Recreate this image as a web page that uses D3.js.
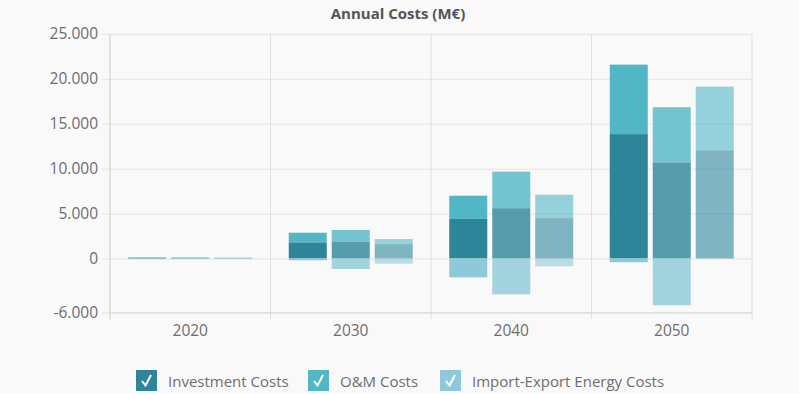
<!DOCTYPE html>
<html><head><meta charset="utf-8">
<script src="https://cdn.jsdelivr.net/npm/d3@7/dist/d3.min.js"></script>
<style>
html,body{margin:0;padding:0;background:#f9f9f9;}
svg{display:block;font-family:"Open Sans",sans-serif;}
</style></head>
<body><svg id="c" width="799" height="394"></svg>
<script>
const years = ["2020","2030","2040","2050"];
const scenarios = [0,1,2];
const seriesNames = ["Investment Costs","O&M Costs","Import-Export Energy Costs"];
const seriesColors = ["#2e8599","#52b6c5","#8ec9da"];
const scenarioOpacity = [1,0.8,0.6];
// values per scenario, per year
const investment = [[60,1800,4400,13850],[60,1900,5600,10700],[60,1600,4500,12050]];
const omCosts    = [[60,1070,2590,7730],[60,1270,4070,6140],[40,560,2600,7080]];
const importExport = [[-60,-200,-2100,-420],[-60,-1170,-3990,-5210],[-60,-580,-870,0]];
const yTicks = [-6000,0,5000,10000,15000,20000,25000];

const svg = d3.select("#c");
const pLeft=110, pRight=752, pTop=33.9, pBottom=312.4;
const x = d3.scaleBand().domain(years).range([pLeft,pRight]).padding(0);
const xs = d3.scaleBand().domain(scenarios).range([18.25, x.bandwidth()-18.25]).paddingInner(0.116).paddingOuter(0);
const y = d3.scaleLinear().domain([-6000,25000]).range([pBottom,pTop]);
const fmt = v => d3.format(",")(v).replace(/,/g,".").replace("\u2212","-");

// horizontal grid + y axis labels
const yAxis = d3.axisLeft(y).tickValues(yTicks).tickSize(pRight-pLeft+8).tickFormat(fmt).tickPadding(4);
const gy = svg.append("g").attr("transform",`translate(${pRight},0)`).call(yAxis);
gy.select(".domain").remove();
gy.selectAll(".tick line").attr("stroke","#e4e4e4").attr("stroke-width",1);
gy.selectAll(".tick text").attr("fill","#6e6e6e").style("font-size","15.5px").style("font-family","'Open Sans',sans-serif").attr("x",-(pRight-pLeft+12));

// vertical grid lines at category boundaries
const bounds = years.map(d=>x(d)).concat([pRight]);
svg.append("g").selectAll("line").data(bounds).join("line")
  .attr("x1",d=>d).attr("x2",d=>d).attr("y1",pTop).attr("y2",pBottom+7)
  .attr("stroke","#e0e0e0").attr("stroke-width",1);
// x axis
const xAxis = d3.axisBottom(x).tickSize(0).tickPadding(13);
const gx = svg.append("g").attr("transform",`translate(0,${pBottom})`).call(xAxis);
gx.select(".domain").attr("stroke","#d6d6d6");
gx.selectAll(".tick text").attr("fill","#6e6e6e").style("font-size","15.5px").style("font-family","'Open Sans',sans-serif");
svg.append("line").attr("x1",pLeft).attr("x2",pLeft).attr("y1",pTop).attr("y2",pBottom+7).attr("stroke","#d6d6d6");

// bars
const seriesData = [investment, omCosts, importExport];
const bars = [];
scenarios.forEach(s=>{
  years.forEach((yr,j)=>{
    let pos=0, neg=0;
    seriesData.forEach((ser,k)=>{
      const v = ser[s][j];
      let y0,y1;
      if(v>=0){y0=pos;y1=pos+v;pos=y1;} else {y0=neg;y1=neg+v;neg=y1;}
      if(v!==0) bars.push({yr,s,k,y0,y1});
    });
  });
});
svg.append("g").selectAll("rect").data(bars).join("rect")
  .attr("x",d=>x(d.yr)+xs(d.s))
  .attr("width",xs.bandwidth())
  .attr("y",d=>y(Math.max(d.y0,d.y1)))
  .attr("height",d=>Math.abs(y(d.y0)-y(d.y1)))
  .attr("fill",d=>seriesColors[d.k])
  .attr("fill-opacity",d=>scenarioOpacity[d.s]);

// title
svg.append("text").attr("x",398).attr("y",19).attr("text-anchor","middle")
  .attr("fill","#555").style("font-weight","bold").style("font-size","15px").text("Annual Costs (M€)");

// legend
const legendX = [136,308,440];
const lg = svg.append("g").selectAll("g").data(seriesNames).join("g")
  .attr("transform",(d,i)=>`translate(${legendX[i]},370)`);
lg.append("rect").attr("width",21).attr("height",21).attr("fill",(d,i)=>seriesColors[i]);
lg.append("path").attr("d","M6,11 L9.5,15.5 L15,5").attr("fill","none").attr("stroke","#fff").attr("stroke-width",2);
lg.append("text").attr("x",32).attr("y",17).attr("fill","#6e6e6e").style("font-size","15px").text(d=>d);
</script></body></html>
